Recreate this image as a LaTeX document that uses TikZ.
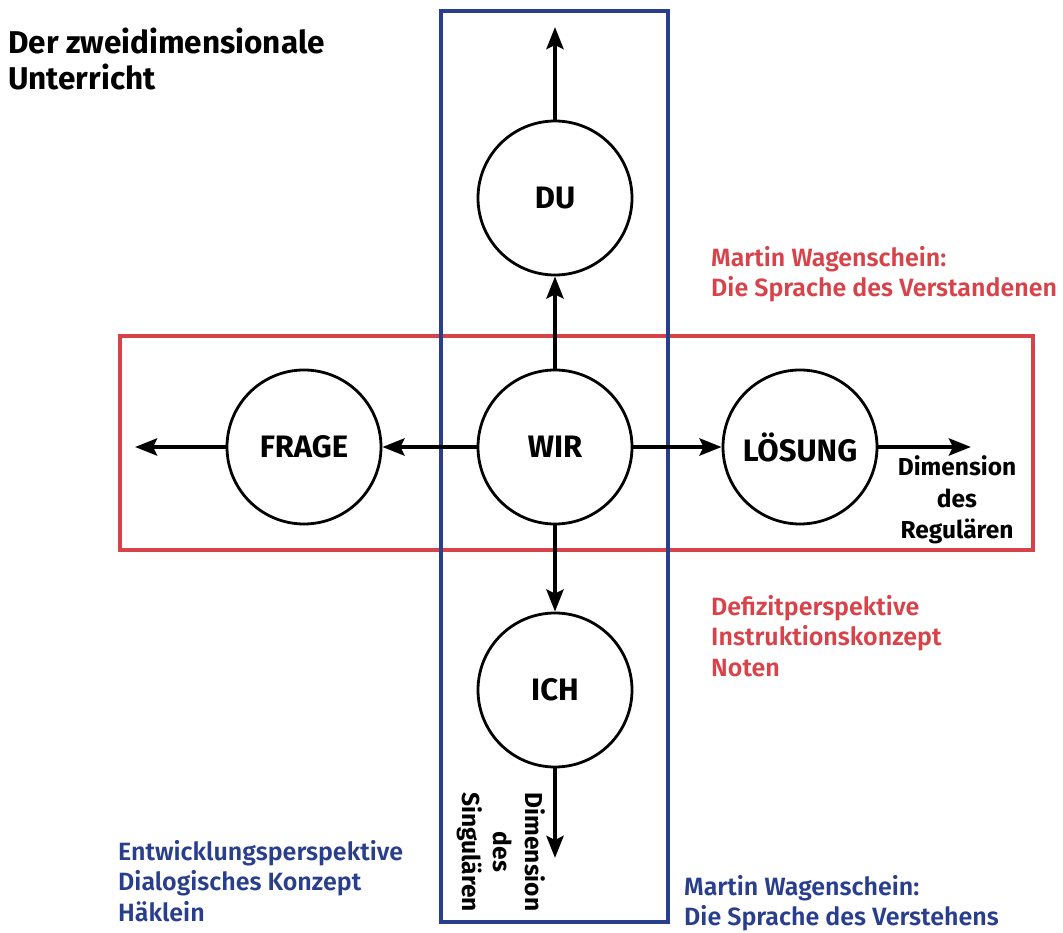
\documentclass[tikz,border=0pt]{standalone}
\usepackage{fontspec}
\setmainfont{Fira Sans}
\newfontfamily\semibold{Fira Sans SemiBold}
\usetikzlibrary{arrows.meta,positioning}
\definecolor{rahmenrot}{HTML}{D8434A}
\definecolor{rahmenblau}{HTML}{293F8E}

\begin{document}
\begin{tikzpicture}[x=1pt,y=-1pt,
  kreis/.style={circle,draw=black,line width=2.8pt,fill=white,minimum size=154pt,inner sep=0pt,font=\bfseries\fontsize{31}{34}\selectfont},
  arrow/.style={-{Stealth[length=22pt,width=17pt,inset=4pt]},line width=4.2pt,draw=black},
  rahmen/.style={line width=4.6pt},
  seitentext/.style={font=\bfseries\fontsize{24.5}{31.5}\selectfont,align=center,inner sep=0pt},
  notiz/.style={font=\semibold\fontsize{25}{30.5}\selectfont,align=left,anchor=west,inner sep=0pt}
]
\useasboundingbox (0,0) rectangle (1063,933);

% Rahmen
\draw[rahmen,draw=rahmenrot] (120,336) rectangle (1033,550);
\draw[rahmen,draw=rahmenblau] (441,11) rectangle (668,922);

% Kreise
\node[kreis] (wir) at (555,447) {WIR};
\node[kreis] (du) at (555,198) {DU};
\node[kreis] (ich) at (555,690) {ICH};
\node[kreis] (frage) at (304,447) {FRAGE};
\node[kreis] (loesung) at (800,447) {LÖSUNG};

\coordinate (obenende) at (555,27);
\coordinate (untenende) at (555,858);
\coordinate (linksende) at (135,447);
\coordinate (rechtsende) at (971,447);

\draw[arrow] (du.north) -- (obenende);
\draw[arrow] (wir.north) -- (du.south);
\draw[arrow] (wir.west) -- (frage.east);
\draw[arrow] (frage.west) -- (linksende);
\draw[arrow] (wir.east) -- (loesung.west);
\draw[arrow] (loesung.east) -- (rechtsende);
\draw[arrow] (wir.south) -- (ich.north);
\draw[arrow] (ich.south) -- (untenende);

% Texte
\node[font=\bfseries\fontsize{31.5}{36}\selectfont,align=left,anchor=north west,inner sep=0pt] (titel) at (8,28) {Der zweidimensionale\\Unterricht};
\node[seitentext] (regulaer) at (957,500) {Dimension\\des\\Regulären};
\node[seitentext,rotate=-90] (singulaer) at (501,852) {Dimension\\des\\Singulären};
\node[notiz,text=rahmenrot] (verstandenen) at (711,274) {Martin Wagenschein:\\Die Sprache des Verstandenen};
\node[notiz,text=rahmenrot] (defizit) at (711,636) {Defizitperspektive\\Instruktionskonzept\\Noten};
\node[notiz,text=rahmenblau] (entwicklung) at (118,881) {Entwicklungsperspektive\\Dialogisches Konzept\\Häklein};
\node[notiz,text=rahmenblau] (verstehens) at (684,903) {Martin Wagenschein:\\Die Sprache des Verstehens};
\end{tikzpicture}
\end{document}
